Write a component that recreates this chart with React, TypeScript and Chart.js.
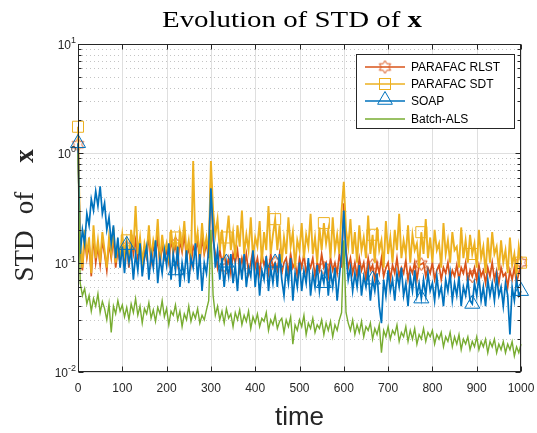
import React, { useEffect, useRef } from "react";
import { Chart, registerables } from "chart.js";
Chart.register(...registerables);

// time step between samples
const STEP = 5;

// PARAFAC RLST
const rlstValues = [
  1.2, 0.135, 0.085, 0.17, 0.11, 0.15, 0.075, 0.18, 0.1, 0.14,
  0.095, 0.16, 0.12, 0.085, 0.15, 0.11, 0.17, 0.09, 0.13, 0.1,
  0.15, 0.11, 0.14, 0.09, 0.17, 0.12, 0.16, 0.11, 0.15, 0.095,
  0.13, 0.11, 0.18, 0.1, 0.14, 0.12, 0.17, 0.095, 0.15, 0.11,
  0.13, 0.1, 0.17, 0.12, 0.15, 0.1, 0.16, 0.125, 0.18, 0.11,
  0.14, 0.095, 0.14, 0.125, 0.16, 0.1, 0.17, 0.12, 0.15, 0.11,
  0.6, 0.16, 0.12, 0.09, 0.13, 0.1, 0.12, 0.09, 0.11, 0.08,
  0.12, 0.1, 0.13, 0.085, 0.11, 0.09, 0.12, 0.08, 0.1, 0.13,
  0.09, 0.11, 0.08, 0.12, 0.095, 0.11, 0.08, 0.12, 0.09, 0.1,
  0.085, 0.12, 0.08, 0.1, 0.11, 0.08, 0.12, 0.09, 0.1, 0.075,
  0.11, 0.09, 0.12, 0.08, 0.1, 0.09, 0.11, 0.075, 0.1, 0.085,
  0.12, 0.09, 0.1, 0.075, 0.11, 0.085, 0.1, 0.08, 0.12, 0.09,
  0.35, 0.13, 0.09, 0.11, 0.08, 0.1, 0.075, 0.11, 0.085, 0.1,
  0.07, 0.11, 0.085, 0.095, 0.07, 0.1, 0.08, 0.11, 0.075, 0.09,
  0.1, 0.07, 0.095, 0.08, 0.11, 0.075, 0.09, 0.08, 0.105, 0.07,
  0.09, 0.08, 0.1, 0.07, 0.095, 0.097, 0.1, 0.075, 0.09, 0.08,
  0.1, 0.07, 0.085, 0.095, 0.07, 0.09, 0.08, 0.1, 0.07, 0.085,
  0.075, 0.095, 0.07, 0.09, 0.08, 0.1, 0.065, 0.085, 0.075, 0.09,
  0.07, 0.095, 0.075, 0.085, 0.065, 0.09, 0.075, 0.1, 0.07, 0.085,
  0.065, 0.09, 0.075, 0.08, 0.06, 0.085, 0.07, 0.09, 0.065, 0.08,
  0.1,
];

// PARAFAC SDT
const sdtValues = [
  1.75, 0.15, 0.09, 0.2, 0.12, 0.17, 0.08, 0.22, 0.11, 0.16,
  0.1, 0.19, 0.13, 0.09, 0.17, 0.12, 0.21, 0.1, 0.15, 0.11,
  0.18, 0.12, 0.16, 0.1, 0.2, 0.13, 0.33, 0.12, 0.17, 0.1,
  0.15, 0.12, 0.22, 0.11, 0.16, 0.13, 0.25, 0.1, 0.18, 0.12,
  0.15, 0.11, 0.2, 0.13, 0.17, 0.11, 0.19, 0.14, 0.24, 0.12,
  0.16, 0.1, 0.85, 0.14, 0.19, 0.11, 0.23, 0.13, 0.17, 0.12,
  0.85, 0.3, 0.18, 0.25, 0.13, 0.2, 0.12, 0.17, 0.27, 0.13,
  0.19, 0.11, 0.22, 0.14, 0.3, 0.12, 0.18, 0.13, 0.26, 0.11,
  0.17, 0.14, 0.24, 0.1, 0.19, 0.13, 0.33, 0.12, 0.18, 0.25,
  0.13, 0.22, 0.1, 0.17, 0.12, 0.26, 0.14, 0.19, 0.09, 0.16,
  0.13, 0.23, 0.11, 0.18, 0.14, 0.28, 0.12, 0.17, 0.1, 0.21,
  0.13, 0.23, 0.15, 0.2, 0.11, 0.26, 0.13, 0.18, 0.12, 0.3,
  0.55, 0.2, 0.14, 0.25, 0.12, 0.19, 0.1, 0.22, 0.13, 0.17,
  0.11, 0.27, 0.12, 0.18, 0.1, 0.21, 0.13, 0.16, 0.09, 0.24,
  0.12, 0.17, 0.1, 0.2, 0.13, 0.28, 0.11, 0.16, 0.12, 0.22,
  0.1, 0.18, 0.13, 0.15, 0.09, 0.19, 0.12, 0.25, 0.11, 0.17,
  0.1, 0.2, 0.13, 0.15, 0.09, 0.23, 0.12, 0.16, 0.1, 0.19,
  0.13, 0.14, 0.09, 0.21, 0.11, 0.16, 0.1, 0.18, 0.12, 0.15,
  0.09, 0.2, 0.11, 0.14, 0.08, 0.17, 0.1, 0.19, 0.12, 0.14,
  0.085, 0.16, 0.1, 0.13, 0.08, 0.17, 0.095, 0.12, 0.075, 0.14,
  0.1,
];

// SOAP
const soapValues = [
  1.24, 0.12, 0.2, 0.15, 0.28, 0.22, 0.38, 0.3, 0.45, 0.33,
  0.5, 0.28, 0.35, 0.2, 0.26, 0.15, 0.22, 0.11, 0.17, 0.09,
  0.14, 0.08, 0.145, 0.1, 0.13, 0.07, 0.12, 0.085, 0.15, 0.075,
  0.11, 0.14, 0.07, 0.12, 0.09, 0.16, 0.065, 0.11, 0.08, 0.13,
  0.095, 0.15, 0.07, 0.12, 0.085, 0.14, 0.06, 0.1, 0.075, 0.13,
  0.065, 0.11, 0.09, 0.15, 0.07, 0.12, 0.055, 0.1, 0.08, 0.13,
  0.48, 0.2, 0.09, 0.13, 0.07, 0.11, 0.06, 0.1, 0.075, 0.12,
  0.065, 0.095, 0.055, 0.11, 0.07, 0.12, 0.06, 0.09, 0.075, 0.13,
  0.06, 0.1, 0.05, 0.085, 0.07, 0.115, 0.055, 0.09, 0.065, 0.1,
  0.06, 0.12, 0.07, 0.05, 0.09, 0.065, 0.11, 0.045, 0.08, 0.06,
  0.1, 0.055, 0.085, 0.065, 0.11, 0.05, 0.08, 0.06, 0.095, 0.055,
  0.08, 0.065, 0.1, 0.05, 0.085, 0.06, 0.09, 0.045, 0.075, 0.12,
  0.3, 0.12, 0.07, 0.09, 0.055, 0.08, 0.06, 0.095, 0.05, 0.075,
  0.06, 0.085, 0.045, 0.07, 0.055, 0.08, 0.04, 0.028, 0.07, 0.05,
  0.085, 0.055, 0.07, 0.045, 0.08, 0.06, 0.09, 0.05, 0.065, 0.04,
  0.075, 0.055, 0.085, 0.05, 0.065, 0.047, 0.07, 0.05, 0.08, 0.055,
  0.065, 0.045, 0.075, 0.05, 0.06, 0.04, 0.07, 0.055, 0.08, 0.045,
  0.065, 0.05, 0.075, 0.04, 0.06, 0.05, 0.07, 0.045, 0.042, 0.065,
  0.05, 0.075, 0.045, 0.06, 0.04, 0.07, 0.05, 0.065, 0.045, 0.075,
  0.05, 0.06, 0.04, 0.065, 0.05, 0.022, 0.06, 0.045, 0.07, 0.05,
  0.055,
];

// Batch-ALS
const batchValues = [
  1.0, 0.065, 0.05, 0.058, 0.042, 0.05, 0.036, 0.047, 0.04, 0.052,
  0.035, 0.044, 0.038, 0.03, 0.042, 0.023, 0.04, 0.034, 0.045, 0.036,
  0.041, 0.032, 0.039, 0.03, 0.042, 0.035, 0.047, 0.033, 0.04, 0.028,
  0.038, 0.034, 0.043, 0.031, 0.037, 0.029, 0.039, 0.034, 0.045, 0.032,
  0.038, 0.027, 0.036, 0.033, 0.041, 0.03, 0.036, 0.026, 0.034, 0.03,
  0.04, 0.029, 0.035, 0.031, 0.038, 0.028, 0.033, 0.03, 0.037, 0.045,
  0.2, 0.05, 0.033, 0.04, 0.03, 0.036, 0.028, 0.038, 0.031, 0.034,
  0.026, 0.035, 0.03, 0.037, 0.027, 0.033, 0.029, 0.036, 0.025, 0.032,
  0.028, 0.034, 0.026, 0.031, 0.029, 0.035, 0.024, 0.03, 0.027, 0.033,
  0.025, 0.029, 0.031, 0.023, 0.03, 0.026, 0.032, 0.018, 0.027, 0.024,
  0.03, 0.026, 0.033, 0.022, 0.028, 0.025, 0.031, 0.023, 0.027, 0.025,
  0.03, 0.022, 0.028, 0.024, 0.029, 0.021, 0.027, 0.024, 0.03, 0.035,
  0.16, 0.035, 0.028, 0.024, 0.03, 0.022, 0.027, 0.023, 0.029, 0.021,
  0.026, 0.024, 0.028, 0.02, 0.025, 0.022, 0.027, 0.015, 0.024, 0.021,
  0.026, 0.02, 0.024, 0.022, 0.027, 0.019, 0.023, 0.021, 0.026, 0.019,
  0.024, 0.02, 0.025, 0.018, 0.022, 0.02, 0.025, 0.019, 0.023, 0.021,
  0.024, 0.018, 0.022, 0.02, 0.023, 0.017, 0.021, 0.019, 0.023, 0.017,
  0.021, 0.018, 0.022, 0.016, 0.02, 0.018, 0.021, 0.016, 0.019, 0.017,
  0.021, 0.016, 0.019, 0.017, 0.02, 0.015, 0.019, 0.017, 0.02, 0.015,
  0.018, 0.016, 0.019, 0.015, 0.018, 0.016, 0.019, 0.014, 0.017, 0.015,
  0.018,
];

const times = soapValues.map((_, i) => i * STEP);
const xTickValues = [0, 100, 200, 300, 400, 500, 600, 700, 800, 900, 1000];
const yDecadeExponents = [-2, -1, 0, 1];
const markerTimes = [0, 110, 220, 335, 445, 555, 665, 775, 890, 1000];
const seriesNames = ["PARAFAC RLST", "PARAFAC SDT", "SOAP", "Batch-ALS"];

const C_RLST = "#D95319";
const C_SDT = "#EDB120";
const C_SOAP = "#0072BD";
const C_BATCH = "#77AC30";
const AXIS = "#262626";
const SANS = "'Liberation Sans', Arial, sans-serif";
const SERIF = "'Liberation Serif', 'Times New Roman', serif";

function makeHexagram(color: string, size: number) {
  const c = document.createElement("canvas");
  c.width = size;
  c.height = size;
  const g = c.getContext("2d")!;
  const cx = size / 2, cy = size / 2;
  const R = size / 2 - 1;
  const r = R / Math.sqrt(3);
  g.beginPath();
  for (let k = 0; k < 12; k++) {
    const ang = -Math.PI / 2 + (k * Math.PI) / 6;
    const rr = k % 2 === 0 ? R : r;
    const px = cx + rr * Math.cos(ang);
    const py = cy + rr * Math.sin(ang);
    if (k === 0) g.moveTo(px, py);
    else g.lineTo(px, py);
  }
  g.closePath();
  g.strokeStyle = color;
  g.lineWidth = 1;
  g.stroke();
  return c;
}

function drawSquare(ctx: CanvasRenderingContext2D, x: number, y: number, half: number, color: string) {
  ctx.save();
  ctx.strokeStyle = color;
  ctx.lineWidth = 1;
  ctx.strokeRect(x - half, y - half, 2 * half, 2 * half);
  ctx.restore();
}

function drawTriangle(ctx: CanvasRenderingContext2D, x: number, y: number, r: number, color: string) {
  ctx.save();
  ctx.strokeStyle = color;
  ctx.lineWidth = 1;
  ctx.beginPath();
  for (let k = 0; k < 3; k++) {
    const a = -Math.PI / 2 + (k * 2 * Math.PI) / 3;
    const px = x + r * Math.cos(a);
    const py = y + r * Math.sin(a);
    if (k === 0) ctx.moveTo(px, py);
    else ctx.lineTo(px, py);
  }
  ctx.closePath();
  ctx.stroke();
  ctx.restore();
}

export default function App() {
  const ref = useRef<HTMLCanvasElement | null>(null);

  useEffect(() => {
    const canvas = ref.current;
    if (!canvas) return;
    const hex = makeHexagram(C_RLST, 15);
    const isMarker = (i: number) => markerTimes.includes(times[i]);
    const toPts = (arr: number[]) => arr.map((v, i) => ({ x: times[i], y: v }));

    const decor = {
      id: "decor",
      beforeDatasetsDraw(chart: any) {
        const { ctx, chartArea: a, scales } = chart;
        const xs = scales.x, ys = scales.y;
        ctx.save();
        ctx.lineWidth = 1;
        ctx.strokeStyle = "#c4c4c4";
        ctx.setLineDash([1, 3]);
        for (let e = -2; e <= 0; e++) {
          for (let m = 2; m <= 9; m++) {
            const py = Math.round(ys.getPixelForValue(m * Math.pow(10, e))) + 0.5;
            ctx.beginPath();
            ctx.moveTo(a.left, py);
            ctx.lineTo(a.right, py);
            ctx.stroke();
          }
        }
        ctx.setLineDash([]);
        ctx.strokeStyle = "#dfdfdf";
        for (const v of xTickValues) {
          const px = Math.round(xs.getPixelForValue(v)) + 0.5;
          ctx.beginPath();
          ctx.moveTo(px, a.top);
          ctx.lineTo(px, a.bottom);
          ctx.stroke();
        }
        for (const e of yDecadeExponents) {
          const py = Math.round(ys.getPixelForValue(Math.pow(10, e))) + 0.5;
          ctx.beginPath();
          ctx.moveTo(a.left, py);
          ctx.lineTo(a.right, py);
          ctx.stroke();
        }
        ctx.restore();
      },
      afterDatasetsDraw(chart: any) {
        const { ctx, chartArea: a, scales } = chart;
        const xs = scales.x, ys = scales.y;
        ctx.save();
        ctx.strokeStyle = AXIS;
        ctx.lineWidth = 1;
        const L = Math.round(a.left) + 0.5, R = Math.round(a.right) - 0.5;
        const T = Math.round(a.top) + 0.5, B = Math.round(a.bottom) - 0.5;
        ctx.strokeRect(L, T, R - L, B - T);
        ctx.beginPath();
        for (const v of xTickValues) {
          const px = Math.round(xs.getPixelForValue(v)) + 0.5;
          ctx.moveTo(px, B);
          ctx.lineTo(px, B - 5);
          ctx.moveTo(px, T);
          ctx.lineTo(px, T + 5);
        }
        for (let e = -2; e <= 1; e++) {
          const py = Math.round(ys.getPixelForValue(Math.pow(10, e))) + 0.5;
          ctx.moveTo(L, py);
          ctx.lineTo(L + 5, py);
          ctx.moveTo(R, py);
          ctx.lineTo(R - 5, py);
          if (e < 1) {
            for (let m = 2; m <= 9; m++) {
              const pm = Math.round(ys.getPixelForValue(m * Math.pow(10, e))) + 0.5;
              ctx.moveTo(L, pm);
              ctx.lineTo(L + 3, pm);
              ctx.moveTo(R, pm);
              ctx.lineTo(R - 3, pm);
            }
          }
        }
        ctx.stroke();

        ctx.fillStyle = AXIS;
        ctx.font = `12px ${SANS}`;
        ctx.textAlign = "center";
        ctx.textBaseline = "alphabetic";
        for (const v of xTickValues) {
          ctx.fillText(String(v), xs.getPixelForValue(v), 392);
        }
        ctx.textAlign = "left";
        for (const e of yDecadeExponents) {
          const py = ys.getPixelForValue(Math.pow(10, e));
          const sup = String(e);
          ctx.font = `9px ${SANS}`;
          const sw = ctx.measureText(sup).width;
          ctx.font = `12px ${SANS}`;
          const bw = ctx.measureText("10").width;
          const xr = 76;
          ctx.fillText("10", xr - sw - bw, py + 5);
          ctx.font = `9px ${SANS}`;
          ctx.fillText(sup, xr - sw, py - 1);
        }

        ctx.font = `26px ${SANS}`;
        ctx.textAlign = "center";
        ctx.fillText("time", (a.left + a.right) / 2, 425);

        ctx.save();
        ctx.translate(33, 0);
        ctx.rotate(-Math.PI / 2);
        ctx.fillStyle = AXIS;
        ctx.textAlign = "center";
        ctx.font = `27px ${SERIF}`;
        ctx.fillText("STD", -256, 0);
        ctx.fillText("of", -203, 0);
        ctx.font = `bold 27px ${SERIF}`;
        ctx.fillText("x", -156, 0);
        ctx.restore();

        ctx.save();
        ctx.fillStyle = "#000";
        ctx.font = `24px ${SERIF}`;
        const p1 = "Evolution of STD of ";
        const w1 = ctx.measureText(p1).width;
        ctx.font = `bold 24px ${SERIF}`;
        const w2 = ctx.measureText("x").width;
        const target = 260;
        const s = target / (w1 + w2);
        ctx.translate(292 - target / 2, 27);
        ctx.scale(s, 1);
        ctx.textAlign = "left";
        ctx.font = `24px ${SERIF}`;
        ctx.fillText(p1, 0, 0);
        ctx.font = `bold 24px ${SERIF}`;
        ctx.fillText("x", w1, 0);
        ctx.restore();
        ctx.restore();
      },
      afterDraw(chart: any) {
        const { ctx } = chart;
        ctx.save();
        const bx = 356.5, by = 54.5, bw = 158, bh = 74;
        ctx.fillStyle = "#fff";
        ctx.fillRect(bx, by, bw, bh);
        ctx.strokeStyle = AXIS;
        ctx.lineWidth = 1;
        ctx.strokeRect(bx, by, bw, bh);
        const rows = [67, 84, 101, 119];
        const cols = [C_RLST, C_SDT, C_SOAP, C_BATCH];
        for (let i = 0; i < 4; i++) {
          const yy = rows[i];
          ctx.strokeStyle = cols[i];
          ctx.lineWidth = 1.3;
          ctx.beginPath();
          ctx.moveTo(365, yy);
          ctx.lineTo(405, yy);
          ctx.stroke();
          if (i === 0) ctx.drawImage(hex, 385 - hex.width / 2, yy - hex.height / 2);
          if (i === 1) drawSquare(ctx, 385, yy, 5.5, C_SDT);
          if (i === 2) drawTriangle(ctx, 385, yy - 1, 8.5, C_SOAP);
          ctx.fillStyle = "#000";
          ctx.font = `12px ${SANS}`;
          ctx.textAlign = "left";
          ctx.textBaseline = "middle";
          ctx.fillText(seriesNames[i], 411, yy + 0.5);
        }
        ctx.restore();
      },
    };

    const chart = new Chart(canvas, {
      type: "line",
      data: {
        datasets: [
          {
            label: seriesNames[3],
            data: toPts(batchValues),
            borderColor: C_BATCH,
            borderWidth: 1.4,
            pointRadius: 0,
            clip: false,
          },
          {
            label: seriesNames[2],
            data: toPts(soapValues),
            borderColor: C_SOAP,
            borderWidth: 1.7,
            pointStyle: "triangle",
            pointRadius: (c: any) => (isMarker(c.dataIndex) ? 8.7 : 0),
            pointBorderColor: C_SOAP,
            pointBackgroundColor: "rgba(0,0,0,0)",
            pointBorderWidth: 1,
            clip: false,
          },
          {
            label: seriesNames[1],
            data: toPts(sdtValues),
            borderColor: C_SDT,
            borderWidth: 1.9,
            pointStyle: "rect",
            pointRadius: (c: any) => (isMarker(c.dataIndex) ? 7.8 : 0),
            pointBorderColor: C_SDT,
            pointBackgroundColor: "rgba(0,0,0,0)",
            pointBorderWidth: 1,
            clip: false,
          },
          {
            label: seriesNames[0],
            data: toPts(rlstValues),
            borderColor: C_RLST,
            borderWidth: 1.7,
            pointStyle: hex,
            pointRadius: (c: any) => (isMarker(c.dataIndex) ? 7 : 0),
            clip: false,
          },
        ] as any,
      },
      options: {
        responsive: false,
        maintainAspectRatio: false,
        animation: false,
        layout: { padding: { left: 78, right: 16, top: 44, bottom: 61 } },
        elements: { line: { tension: 0 } },
        scales: {
          x: { type: "linear", min: 0, max: 1000, display: false },
          y: { type: "logarithmic", min: 0.01, max: 10, display: false },
        },
        plugins: {
          legend: { display: false },
          tooltip: { enabled: false },
          title: { display: false },
        },
      },
      plugins: [decor as any],
    });
    return () => chart.destroy();
  }, []);

  return (
    <div style={{ position: "fixed", left: 0, top: 0, width: 537, height: 433, background: "#fff" }}>
      <canvas ref={ref} width={537} height={433} style={{ width: 537, height: 433, display: "block" }} />
    </div>
  );
}
